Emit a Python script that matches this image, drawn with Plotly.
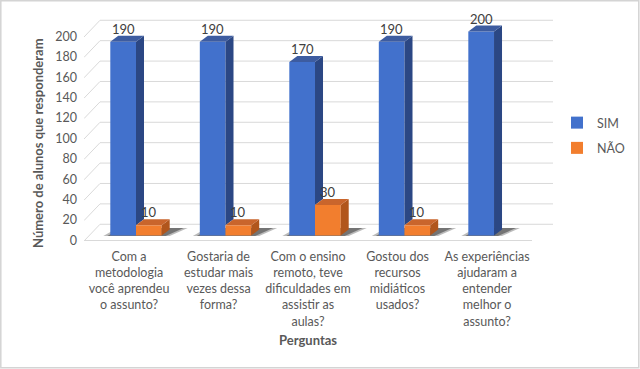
import plotly.graph_objects as go

# ---------------- data ----------------
categories = [
    "Com a<br>metodologia<br>você aprendeu<br>o assunto?",
    "Gostaria de<br>estudar mais<br>vezes dessa<br>forma?",
    "Com o ensino<br>remoto, teve<br>dificuldades em<br>assistir as<br>aulas?",
    "Gostou dos<br>recursos<br>midiáticos<br>usados?",
    "As experiências<br>ajudaram a<br>entender<br>melhor o<br>assunto?",
]
sim = [190, 190, 170, 190, 200]
nao = [10, 10, 30, 10, 0]
series_names = ["SIM", "NÃO"]
y_ticks = [0, 20, 40, 60, 80, 100, 120, 140, 160, 180, 200]

# ---------------- geometry / style ----------------
W, H = 640, 369
L, R, T, B = 84, 87, 15, 128          # plot area px: x 84..553, y 15..241
PW, PH = W - L - R, H - T - B
XR = [-0.581, 4.659]
KY = 1.02                              # px per unit (bars)
Y0 = -5.5 / KY
YR = [Y0, Y0 + PH / KY]
XS = PW / (XR[1] - XR[0])              # px per x unit
BW = 25.7 / XS                         # bar width
DX = 8.0 / XS                          # depth offset x
DY = 6.0 / KY                          # depth offset y
BACK = 11.0                            # back-wall offset (units)
LBL_SHIFT = 0.078                      # category label offset

blue_front, blue_side, blue_top = "#4271cc", "#2b4784", "#3d5ca0"
orng_front, orng_side, orng_top = "#f27e2e", "#b1561c", "#c9652c"
grid_col = "#d9d9d9"
txt_col = "#595959"
FONT = "Lato"

def px2paper_x(px):
    return (px - L) / PW

def px2paper_y(py):
    return (T + PH - py) / PH

fig = go.Figure()

xb = [i - BW / 2 for i in range(len(categories))]
xo = [i + BW / 2 for i in range(len(categories))]

fig.add_trace(go.Bar(x=xb, y=sim, width=BW, name=series_names[0],
                     marker=dict(color=blue_front, line=dict(width=0)),
                     legendgroup="a", hoverinfo="y"))
fig.add_trace(go.Bar(x=xo, y=nao, width=BW, name=series_names[1],
                     marker=dict(color=orng_front, line=dict(width=0)),
                     legendgroup="b", hoverinfo="y"))

def poly(xs, ys, color):
    fig.add_trace(go.Scatter(x=xs + [xs[0]], y=ys + [ys[0]], mode="lines",
                             fill="toself", fillcolor=color,
                             line=dict(width=0, color=color),
                             hoverinfo="skip", showlegend=False))

for i in range(len(categories)):
    vb, vo = sim[i], nao[i]
    l, r = xb[i] - BW / 2, xb[i] + BW / 2
    base = max(vo, 0)
    poly([r, r + DX, r + DX, r], [base, base + DY, vb + DY, vb], blue_side)
    poly([l, l + DX, r + DX, r], [vb, vb + DY, vb + DY, vb], blue_top)
    if vo > 0:
        l, r = xo[i] - BW / 2, xo[i] + BW / 2
        poly([r, r + DX, r + DX, r], [0, DY, vo + DY, vo], orng_side)
        poly([l, l + DX, r + DX, r], [vo, vo + DY, vo + DY, vo], orng_top)

# value labels
ann = []
for i in range(len(categories)):
    for xv, v in ((xb[i], sim[i]), (xo[i], nao[i])):
        if v > 0:
            ann.append(dict(x=xv, y=v + DY, text=str(v), showarrow=False,
                            xanchor="center", yanchor="bottom", yshift=-3,
                            font=dict(family=FONT, size=13, color="#404040")))

# axis titles
ann.append(dict(xref="paper", yref="paper", x=px2paper_x(308), y=px2paper_y(340),
                text="<b>Perguntas</b>", showarrow=False, xanchor="center",
                yanchor="middle", font=dict(family=FONT, size=13, color=txt_col)))
ann.append(dict(xref="paper", yref="paper", x=px2paper_x(38), y=px2paper_y(143),
                text="<b>Número de alunos que responderam</b>", showarrow=False,
                textangle=-90, xanchor="center", yanchor="middle",
                font=dict(family=FONT, size=13, color=txt_col)))

shapes = []
x_back0 = XR[0] + 16 / XS
x_front_end = XR[0] + (532 - L) / XS
for v in y_ticks:
    shapes.append(dict(type="line", xref="x", yref="y", x0=x_back0, x1=XR[1],
                       y0=v + BACK, y1=v + BACK, layer="below",
                       line=dict(color=grid_col, width=1)))
    shapes.append(dict(type="line", xref="x", yref="y", x0=XR[0], x1=x_back0,
                       y0=Y0 + v, y1=v + BACK, layer="below",
                       line=dict(color=grid_col, width=1)))
shapes.append(dict(type="line", xref="x", yref="y", x0=XR[0], x1=x_front_end,
                   y0=Y0 + 0.3, y1=Y0 + 0.3, layer="below",
                   line=dict(color=grid_col, width=1.5)))
# floor shadows
for i in range(len(categories)):
    l = xb[i] - BW / 2 - 3 / XS
    r = (xo[i] + BW / 2 if nao[i] > 0 else xb[i] + BW / 2) + 4 / XS
    for k, a in ((0, 0.3), (1, 0.45)):
        e = (1 - k) * 4 / XS
        path = (f"M {l - e} {-0.5} L {r + e} {-0.5} L {r + DX + 10 / XS + e} {DY + 1.5} "
                f"L {l + DX + 6 / XS - e} {DY + 1.5} Z")
        shapes.append(dict(type="path", xref="x", yref="y", path=path, layer="below",
                           fillcolor=f"rgba(30,30,30,{a})", line=dict(width=0)))
shapes.append(dict(type="rect", xref="paper", yref="paper",
                   x0=px2paper_x(0.8), x1=px2paper_x(638.8),
                   y0=px2paper_y(367.8), y1=px2paper_y(0.8),
                   line=dict(color="#d4d4d4", width=1.5)))

fig.update_layout(
    width=W, height=H,
    margin=dict(l=L, r=R, t=T, b=B, autoexpand=False),
    paper_bgcolor="white", plot_bgcolor="white",
    barmode="overlay",
    showlegend=True,
    legend=dict(x=px2paper_x(557), y=px2paper_y(108), xanchor="left", yanchor="top",
                font=dict(family=FONT, size=12.5, color=txt_col),
                traceorder="grouped", tracegroupgap=6, bgcolor="rgba(0,0,0,0)"),
    xaxis=dict(range=XR, tickmode="array", automargin=False,
               tickvals=[i - LBL_SHIFT for i in range(len(categories))],
               ticktext=categories, showgrid=False, zeroline=False, showline=False,
               ticks="", ticklabelstandoff=6,
               tickfont=dict(family=FONT, size=12.5, color=txt_col),
               fixedrange=True),
    yaxis=dict(range=YR, tickmode="array", tickvals=y_ticks, showgrid=False,
               automargin=False,
               zeroline=False, showline=False, ticks="", ticklabelshift=5,
               ticklabelstandoff=6,
               tickfont=dict(family=FONT, size=12.5, color=txt_col), fixedrange=True),
    annotations=ann,
    shapes=shapes,
    font=dict(family=FONT, color=txt_col),
)

fig.write_html("out.html", config={"displayModeBar": False},
               post_script="document.body.style.margin='0';")
